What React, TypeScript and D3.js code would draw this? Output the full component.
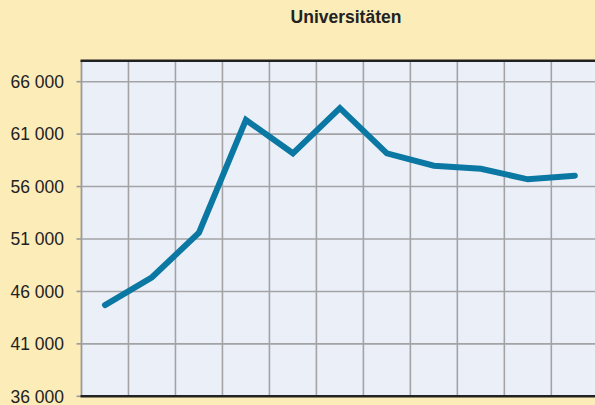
import React from "react";
import * as d3 from "d3";

const title = "Universitäten";
const categories = ["1", "2", "3", "4", "5", "6", "7", "8", "9", "10", "11"];
const values = [44700, 47350, 51600, 62350, 59170, 63470, 59170, 57990, 57700, 56690, 57040];
const yTicks = [36000, 41000, 46000, 51000, 56000, 61000, 66000];

const W = 595;
const H = 405;

export default function App() {
  const x = d3.scaleBand<string>().domain(categories).range([81.5, 598.3]);
  const y = d3.scaleLinear().domain([36000, 68000]).range([396.3, 60.7]);
  const fmt = (v: number) => d3.format(",")(v).replace(/,/g, " ");
  const line = d3
    .line<number>()
    .x((_, i) => (x(categories[i]) as number) + x.bandwidth() / 2)
    .y((d) => y(d));
  const top = y(68000);
  const bottom = y(36000);
  const left = 81.5;
  const font = "Arial, 'Liberation Sans', Helvetica, sans-serif";
  return (
    <svg
      width={W}
      height={H}
      style={{ position: "absolute", left: 0, top: 0, display: "block" }}
    >
      <rect x={0} y={0} width={W} height={H} fill="#fcecb8" />
      <text
        x={346}
        y={23}
        textAnchor="middle"
        fontFamily={font}
        fontWeight="bold"
        fontSize={17.5}
        fill="#222"
      >
        {title}
      </text>
      <rect x={left} y={top} width={W - left} height={bottom - top} fill="#ebf0f8" />
      {categories.map((c, i) =>
        i === 0 ? null : (
          <line
            key={"v" + c}
            x1={x(c) as number}
            x2={x(c) as number}
            y1={top}
            y2={bottom}
            stroke="#a3a3a6"
            strokeWidth={1.6}
          />
        )
      )}
      <line x1={left} x2={left} y1={top} y2={bottom} stroke="#9a9a9e" strokeWidth={1.8} />
      {yTicks.map((t) => (
        <g key={t}>
          {t !== 36000 && (
            <line x1={left} x2={W} y1={y(t)} y2={y(t)} stroke="#a3a3a6" strokeWidth={1.6} />
          )}
          <line x1={left - 5} x2={left} y1={y(t)} y2={y(t)} stroke="#9a9a9e" strokeWidth={1.6} />
          <text
            x={64}
            y={y(t)}
            dy="0.36em"
            textAnchor="end"
            fontFamily={font}
            fontSize={17.5}
            fill="#222"
          >
            {fmt(t)}
          </text>
        </g>
      ))}
      <line x1={left - 1} x2={W} y1={top} y2={top} stroke="#222" strokeWidth={2.5} />
      <line x1={left - 1} x2={W} y1={bottom} y2={bottom} stroke="#222" strokeWidth={2.5} />
      <path
        d={line(values) || ""}
        fill="none"
        stroke="#0b77a3"
        strokeWidth={6}
        strokeLinecap="round"
        strokeLinejoin="miter"
      />
    </svg>
  );
}
